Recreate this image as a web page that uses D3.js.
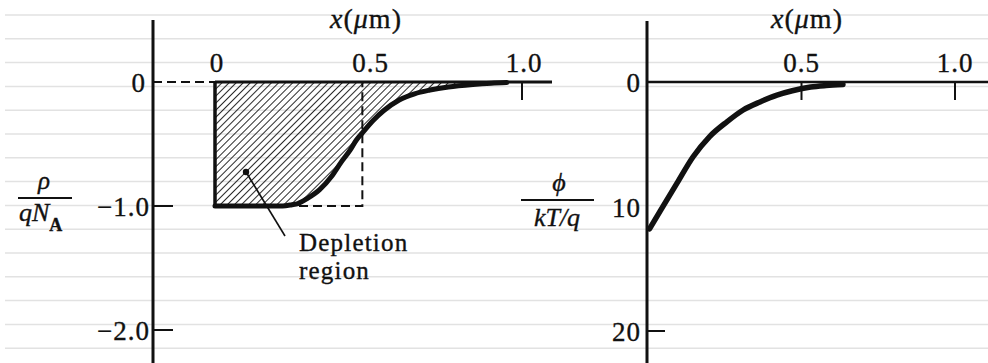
<!DOCTYPE html>
<html>
<head>
<meta charset="utf-8">
<script src="https://cdn.jsdelivr.net/npm/d3@7"></script>
<style>
  body { margin: 0; background: #fff; }
  svg { display: block; }
  text { font-family: "Liberation Serif", "DejaVu Serif", serif; fill: #111; stroke: #111; stroke-width: 0.35px; }
  .tick-label { font-size: 27px; letter-spacing: 1px; }
</style>
</head>
<body>
<div id="chart"></div>
<script>
// charge density rho/(q N_A) vs x (um)
const rhoX = [0, 0.22, 0.25, 0.27, 0.30, 0.34, 0.38, 0.41, 0.44, 0.46, 0.48, 0.515, 0.55, 0.60, 0.65, 0.70, 0.76, 0.84, 0.90, 0.95];
const rhoY = [-1, -1, -0.99, -0.98, -0.94, -0.87, -0.76, -0.65, -0.55, -0.47, -0.41, -0.31, -0.23, -0.145, -0.095, -0.065, -0.04, -0.02, -0.01, -0.005];
// abrupt depletion approximation width (um)
const depletionWidth = 0.48;

// potential phi/(kT/q) vs x (um)
const phiX = [0.005, 0.04, 0.095, 0.147, 0.2, 0.257, 0.31, 0.365, 0.42, 0.47, 0.53, 0.58, 0.635];
const phiY = [11.8, 10.35, 8.1, 6.0, 4.4, 3.2, 2.25, 1.6, 1.05, 0.7, 0.4, 0.28, 0.2];

const xTicksLeft = [0, 0.5, 1.0];
const xTickLabelsLeft = ['0', '0.5', '1.0'];
const xTicksRight = [0.5, 1.0];
const xTickLabelsRight = ['0.5', '1.0'];
const yTicksLeft = [0, -1, -2];
const yTickLabelsLeft = ['0', '\u22121.0', '\u22122.0'];
const yTicksRight = [0, 10, 20];
const yTickLabelsRight = ['0', '10', '20'];

const width = 988, height = 363;

const svg = d3.select('#chart').append('svg')
    .attr('width', width)
    .attr('height', height);

// faint ruled lines of the scanned page
svg.append('g').selectAll('line')
    .data(d3.range(15))
    .enter().append('line')
    .attr('x1', 5).attr('x2', width)
    .attr('y1', (i) => 15 + i * 23.8)
    .attr('y2', (i) => 15 + i * 23.8)
    .attr('stroke', '#e2e2e2')
    .attr('stroke-width', 1.5);

const defs = svg.append('defs');
defs.append('pattern')
    .attr('id', 'hatch')
    .attr('patternUnits', 'userSpaceOnUse')
    .attr('width', 5).attr('height', 5)
    .attr('patternTransform', 'rotate(45)')
    .append('line')
    .attr('x1', 0).attr('y1', 0).attr('x2', 0).attr('y2', 5)
    .attr('stroke', '#111').attr('stroke-width', 1.8);

// ---------- left panel ----------
const xL = d3.scaleLinear().domain([0, 1]).range([215, 522]);
const yL = d3.scaleLinear().domain([0, -2]).range([82, 330]);
const axL = 153;

const left = svg.append('g');

const rho = rhoX.map((x, i) => [x, rhoY[i]]);
const area = d3.area()
    .x((d) => xL(d[0]))
    .y0(yL(0))
    .y1((d) => yL(d[1]))
    .curve(d3.curveMonotoneX);
left.append('path')
    .datum(rho.concat([[1.0, 0]]))
    .attr('d', area)
    .attr('fill', 'url(#hatch)');

// dashed box of the abrupt approximation
left.append('path')
    .attr('d', `M${axL},${yL(0)}H${xL(0)}M${xL(0)},${yL(-1)}H${xL(depletionWidth)}V${yL(0)}`)
    .attr('fill', 'none')
    .attr('stroke', '#111')
    .attr('stroke-width', 2)
    .attr('stroke-dasharray', '9,5');

// zero line
left.append('line')
    .attr('x1', xL(0)).attr('x2', 552)
    .attr('y1', yL(0)).attr('y2', yL(0))
    .attr('stroke', '#111').attr('stroke-width', 3);

// left edge of the region
left.append('line')
    .attr('x1', xL(0)).attr('x2', xL(0))
    .attr('y1', yL(0)).attr('y2', yL(-1))
    .attr('stroke', '#111').attr('stroke-width', 3.5);

left.append('path')
    .datum(rho)
    .attr('d', d3.line().x((d) => xL(d[0])).y((d) => yL(d[1])).curve(d3.curveMonotoneX))
    .attr('fill', 'none')
    .attr('stroke', '#111')
    .attr('stroke-width', 5)
    .attr('stroke-linecap', 'round');

// y axis
left.append('line')
    .attr('x1', axL).attr('x2', axL)
    .attr('y1', 20).attr('y2', height)
    .attr('stroke', '#111').attr('stroke-width', 3);

left.selectAll('.ytick')
    .data(yTicksLeft.slice(1))
    .enter().append('line')
    .attr('x1', axL).attr('x2', axL + 20)
    .attr('y1', (d) => yL(d)).attr('y2', (d) => yL(d))
    .attr('stroke', '#111').attr('stroke-width', 2);

left.selectAll('.ylab')
    .data(yTicksLeft)
    .enter().append('text')
    .attr('class', 'tick-label')
    .attr('x', (d, i) => (i === 0 ? 146 : 150))
    .attr('y', (d) => yL(d) + 10)
    .attr('text-anchor', 'end')
    .text((d, i) => yTickLabelsLeft[i]);

// x ticks
left.append('line')
    .attr('x1', xL(1)).attr('x2', xL(1))
    .attr('y1', yL(0)).attr('y2', yL(0) + 18)
    .attr('stroke', '#111').attr('stroke-width', 2);

left.selectAll('.xlab')
    .data(xTicksLeft)
    .enter().append('text')
    .attr('class', 'tick-label')
    .attr('x', (d) => xL(d) + 2)
    .attr('y', 72)
    .attr('text-anchor', 'middle')
    .text((d, i) => xTickLabelsLeft[i]);

// pointer + annotation
left.append('line')
    .attr('x1', 246).attr('y1', 172).attr('x2', 285).attr('y2', 236)
    .attr('stroke', '#111').attr('stroke-width', 1.6);
left.append('circle')
    .attr('cx', 246).attr('cy', 172).attr('r', 3.2).attr('fill', '#111');
left.append('text').attr('x', 299).attr('y', 251)
    .attr('font-size', 25).attr('letter-spacing', 1.2).text('Depletion');
left.append('text').attr('x', 299).attr('y', 279)
    .attr('font-size', 25).attr('letter-spacing', 1.2).text('region');

// ---------- right panel ----------
const xR = d3.scaleLinear().domain([0, 1]).range([648, 955]);
const yR = d3.scaleLinear().domain([0, 20]).range([82, 331]);
const axR = 647;

const right = svg.append('g');

right.append('line')
    .attr('x1', axR).attr('x2', width)
    .attr('y1', yR(0)).attr('y2', yR(0))
    .attr('stroke', '#111').attr('stroke-width', 2.5);

right.append('path')
    .datum(phiX.map((x, i) => [x, phiY[i]]))
    .attr('d', d3.line().x((d) => xR(d[0])).y((d) => yR(d[1])).curve(d3.curveMonotoneX))
    .attr('fill', 'none')
    .attr('stroke', '#111')
    .attr('stroke-width', 5.5)
    .attr('stroke-linecap', 'round');

right.append('line')
    .attr('x1', axR).attr('x2', axR)
    .attr('y1', 21).attr('y2', height)
    .attr('stroke', '#111').attr('stroke-width', 3);

right.append('line')
    .attr('x1', axR).attr('x2', axR + 18)
    .attr('y1', yR(20)).attr('y2', yR(20))
    .attr('stroke', '#111').attr('stroke-width', 2);

right.selectAll('.xtick')
    .data(xTicksRight)
    .enter().append('line')
    .attr('x1', (d) => xR(d)).attr('x2', (d) => xR(d))
    .attr('y1', yR(0)).attr('y2', yR(0) + 18)
    .attr('stroke', '#111').attr('stroke-width', 2);

right.selectAll('.xlab')
    .data(xTicksRight)
    .enter().append('text')
    .attr('class', 'tick-label')
    .attr('x', (d) => xR(d))
    .attr('y', 72)
    .attr('text-anchor', 'middle')
    .text((d, i) => xTickLabelsRight[i]);

right.selectAll('.ylab')
    .data(yTicksRight)
    .enter().append('text')
    .attr('class', 'tick-label')
    .attr('x', 641)
    .attr('y', (d) => yR(d) + 10)
    .attr('text-anchor', 'end')
    .text((d, i) => yTickLabelsRight[i]);

// ---------- axis titles ----------
function xTitle(cx) {
    const t = svg.append('text')
        .attr('x', cx).attr('y', 28)
        .attr('text-anchor', 'middle')
        .attr('font-size', 28)
        .attr('letter-spacing', 1);
    t.append('tspan').attr('font-style', 'italic').text('x');
    t.append('tspan').text('(');
    t.append('tspan').attr('font-style', 'italic').text('\u03bc');
    t.append('tspan').text('m)');
}
xTitle(366);
xTitle(807);

// rho / q N_A
svg.append('text').attr('x', 44).attr('y', 189)
    .attr('text-anchor', 'middle').attr('font-size', 25)
    .attr('font-style', 'italic').text('\u03c1');
svg.append('line').attr('x1', 18).attr('x2', 72).attr('y1', 198).attr('y2', 198)
    .attr('stroke', '#111').attr('stroke-width', 1.8);
const qn = svg.append('text').attr('x', 19).attr('y', 221).attr('font-size', 26);
qn.append('tspan').attr('font-style', 'italic').text('qN');
qn.append('tspan').attr('dy', 10).attr('font-size', 18).attr('font-weight', 'bold').text('A');

// phi / (kT/q)
svg.append('text').attr('x', 559).attr('y', 191)
    .attr('text-anchor', 'middle').attr('font-size', 26)
    .attr('font-style', 'italic').text('\u03d5');
svg.append('line').attr('x1', 521).attr('x2', 594).attr('y1', 200).attr('y2', 200)
    .attr('stroke', '#111').attr('stroke-width', 1.8);
svg.append('text').attr('x', 557).attr('y', 226)
    .attr('text-anchor', 'middle').attr('font-size', 26)
    .attr('font-style', 'italic').text('kT/q');
</script>
</body>
</html>
